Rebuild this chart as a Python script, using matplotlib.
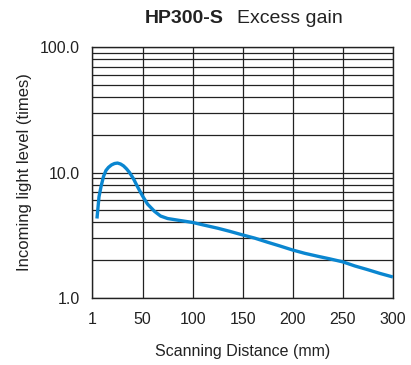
import matplotlib.pyplot as plt
from matplotlib.ticker import FixedLocator, NullFormatter

plt.rcParams["font.family"] = ["Liberation Sans", "DejaVu Sans"]

# curve
distance = [4.5, 6.5, 8.5, 11, 13.5, 16, 19, 22, 25, 28, 31, 34, 37, 41, 45,
            50, 55, 62, 68, 75, 87, 100, 112, 125, 137, 150, 162, 175, 187,
            200, 212, 225, 237, 250, 262, 275, 287, 300]
gain = [4.3, 6.4, 7.7, 9.3, 10.4, 11.0, 11.5, 11.8, 11.9, 11.7, 11.3, 10.7,
        10.0, 8.9, 7.7, 6.5, 5.6, 4.9, 4.5, 4.3, 4.15, 4.0, 3.8, 3.6, 3.4,
        3.18, 3.0, 2.78, 2.6, 2.41, 2.27, 2.15, 2.05, 1.94, 1.8, 1.68, 1.57, 1.47]

x_ticks = [0, 50, 100, 150, 200, 250, 300]
x_labels = ["1", "50", "100", "150", "200", "250", "300"]
y_ticks = [1, 10, 100]
y_labels = ["1.0", "10.0", "100.0"]

fig = plt.figure(figsize=(4.11, 3.65), dpi=100)
ax = fig.add_axes([0.225, 0.1836, 0.731, 0.6874])

ax.plot(distance, gain, color="#0a86d0", lw=2.4, solid_capstyle="butt", zorder=3)

ax.set_yscale("log")
ax.set_xlim(0, 300)
ax.set_ylim(1, 100)
ax.set_xticks(x_ticks)
ax.set_xticklabels(x_labels)
ax.set_yticks(y_ticks)
ax.set_yticklabels(y_labels)
minors = [m * d for d in (1, 10) for m in range(2, 10)]
ax.yaxis.set_minor_locator(FixedLocator(minors))
ax.yaxis.set_minor_formatter(NullFormatter())

ax.grid(True, which="both", axis="y", color="#222222", lw=0.9)
ax.grid(True, which="major", axis="x", color="#222222", lw=0.9)
ax.tick_params(which="both", length=0, labelsize=11.5, colors="#222222")
ax.tick_params(axis="y", pad=9)
ax.tick_params(axis="x", pad=10)
for s in ax.spines.values():
    s.set_color("#222222")
    s.set_linewidth(1.0)

ax.set_xlabel("Scanning Distance (mm)", fontsize=11.5, color="#222222", labelpad=12)
ax.set_ylabel("Incoming light level (times)", fontsize=12, color="#222222", labelpad=6)

fig.text(0.545, 0.950, "HP300-S", fontsize=14, fontweight="bold", ha="right",
         va="center", color="#222222")
fig.text(0.577, 0.950, "Excess gain", fontsize=14, ha="left", va="center",
         color="#222222")

fig.savefig("out.png", dpi=100)
